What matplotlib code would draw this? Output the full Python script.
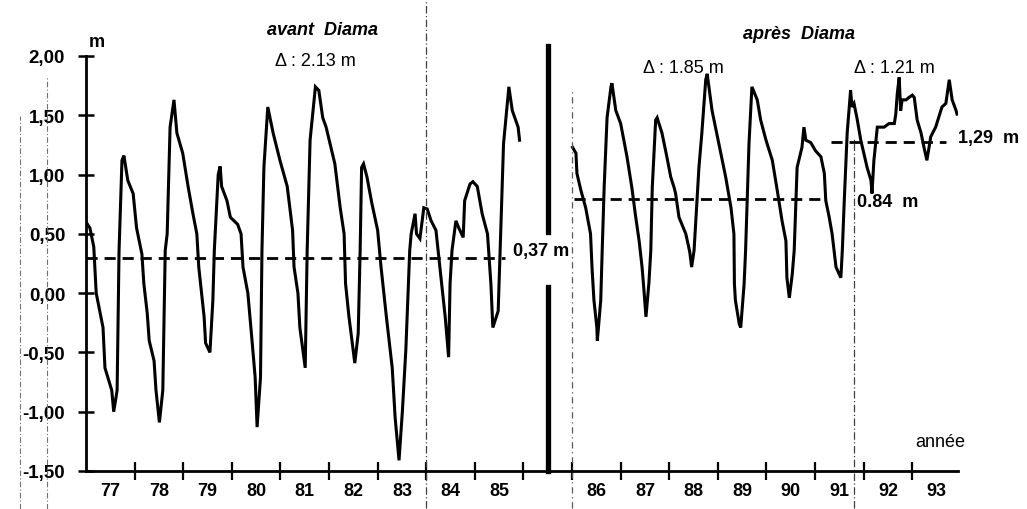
import matplotlib
matplotlib.use('Agg')
import matplotlib.pyplot as plt
from matplotlib.lines import Line2D

plt.rcParams['font.family'] = ['Liberation Sans', 'DejaVu Sans']

# Niveau d'eau (m) avant Diama : temps en années décimales
t_avant = [1977.00, 1977.08, 1977.16, 1977.21, 1977.35, 1977.39, 1977.53, 1977.57, 1977.64, 1977.68,
           1977.74, 1977.78, 1977.86, 1977.97, 1978.04, 1978.15, 1978.19, 1978.26, 1978.30, 1978.40,
           1978.44, 1978.51, 1978.58, 1978.63, 1978.67, 1978.73, 1978.81, 1978.87, 1978.99, 1979.10,
           1979.20, 1979.28, 1979.32, 1979.43, 1979.46, 1979.55, 1979.61, 1979.64, 1979.72, 1979.76,
           1979.79, 1979.90, 1979.97, 1980.12, 1980.19, 1980.23, 1980.33, 1980.42, 1980.48, 1980.52,
           1980.59, 1980.62, 1980.66, 1980.74, 1980.85, 1980.99, 1981.14, 1981.25, 1981.28, 1981.36,
           1981.40, 1981.51, 1981.55, 1981.61, 1981.72, 1981.79, 1981.87, 1981.94, 1982.12, 1982.23,
           1982.31, 1982.34, 1982.41, 1982.53, 1982.60, 1982.64, 1982.67, 1982.71, 1982.78, 1982.88,
           1983.00, 1983.07, 1983.18, 1983.30, 1983.36, 1983.44, 1983.51, 1983.58, 1983.66, 1983.69,
           1983.77, 1983.80, 1983.87, 1983.95, 1984.02, 1984.10, 1984.20, 1984.28, 1984.39, 1984.46,
           1984.49, 1984.53, 1984.61, 1984.67, 1984.76, 1984.79, 1984.90, 1984.96, 1985.05, 1985.15,
           1985.26, 1985.33, 1985.37, 1985.48, 1985.52, 1985.59, 1985.70, 1985.77, 1985.89, 1985.92]
h_avant = [0.60, 0.55, 0.39, 0.00, -0.29, -0.63, -0.82, -1.00, -0.82, 0.36,
           1.12, 1.16, 0.95, 0.84, 0.55, 0.33, 0.08, -0.17, -0.40, -0.57,
           -0.82, -1.09, -0.82, 0.36, 0.50, 1.40, 1.63, 1.35, 1.18, 0.90,
           0.67, 0.50, 0.22, -0.20, -0.42, -0.50, -0.06, 0.36, 1.00, 1.07,
           0.90, 0.78, 0.64, 0.58, 0.50, 0.22, 0.00, -0.42, -0.71, -1.13,
           -0.71, 0.36, 1.06, 1.57, 1.35, 1.12, 0.90, 0.53, 0.22, 0.00,
           -0.29, -0.63, 0.36, 1.29, 1.74, 1.71, 1.48, 1.40, 1.09, 0.72,
           0.50, 0.08, -0.20, -0.59, -0.34, 0.36, 1.06, 1.09, 0.98, 0.76,
           0.53, 0.22, -0.20, -0.63, -1.05, -1.41, -0.99, -0.48, 0.36, 0.50,
           0.67, 0.50, 0.46, 0.72, 0.71, 0.61, 0.53, 0.22, -0.20, -0.54,
           0.08, 0.36, 0.61, 0.55, 0.47, 0.78, 0.92, 0.94, 0.90, 0.67,
           0.50, 0.08, -0.29, -0.15, 0.36, 1.26, 1.74, 1.54, 1.40, 1.29]

# Niveau d'eau (m) après Diama
t_apres = [1986.01, 1986.08, 1986.10, 1986.18, 1986.28, 1986.38, 1986.41, 1986.45, 1986.51, 1986.52,
           1986.59, 1986.62, 1986.66, 1986.72, 1986.80, 1986.82, 1986.90, 1987.00, 1987.13, 1987.23,
           1987.31, 1987.38, 1987.44, 1987.48, 1987.52, 1987.58, 1987.62, 1987.65, 1987.72, 1987.75,
           1987.85, 1987.95, 1988.03, 1988.10, 1988.13, 1988.20, 1988.34, 1988.42, 1988.46, 1988.51,
           1988.61, 1988.67, 1988.75, 1988.78, 1988.88, 1989.02, 1989.16, 1989.27, 1989.33, 1989.34,
           1989.36, 1989.44, 1989.47, 1989.54, 1989.57, 1989.64, 1989.70, 1989.81, 1989.88, 1989.99,
           1990.12, 1990.22, 1990.32, 1990.40, 1990.42, 1990.47, 1990.53, 1990.57, 1990.63, 1990.73,
           1990.77, 1990.81, 1990.91, 1991.01, 1991.12, 1991.19, 1991.22, 1991.29, 1991.35, 1991.39,
           1991.43, 1991.53, 1991.56, 1991.60, 1991.66, 1991.73, 1991.76, 1991.80, 1991.86, 1991.94,
           1992.07, 1992.15, 1992.17, 1992.21, 1992.28, 1992.42, 1992.52, 1992.63, 1992.66, 1992.69,
           1992.73, 1992.76, 1992.79, 1992.87, 1992.93, 1993.00, 1993.04, 1993.10, 1993.18, 1993.24,
           1993.30, 1993.38, 1993.48, 1993.61, 1993.69, 1993.76, 1993.82, 1993.90, 1993.92]
h_apres = [1.23, 1.18, 1.01, 0.87, 0.72, 0.50, 0.22, -0.06, -0.29, -0.40,
           -0.06, 0.36, 0.89, 1.48, 1.74, 1.77, 1.54, 1.43, 1.15, 0.89,
           0.64, 0.44, 0.22, 0.02, -0.20, 0.08, 0.36, 0.89, 1.46, 1.48,
           1.35, 1.15, 0.98, 0.89, 0.84, 0.64, 0.50, 0.35, 0.22, 0.36,
           1.06, 1.35, 1.80, 1.85, 1.54, 1.26, 0.98, 0.72, 0.50, 0.08,
           -0.06, -0.26, -0.29, 0.08, 0.36, 1.26, 1.74, 1.63, 1.46, 1.29,
           1.12, 0.87, 0.61, 0.44, 0.13, -0.04, 0.16, 0.36, 1.06, 1.23,
           1.40, 1.29, 1.27, 1.20, 1.15, 1.01, 0.78, 0.64, 0.50, 0.36,
           0.22, 0.13, 0.36, 0.78, 1.35, 1.71, 1.57, 1.60, 1.48, 1.29,
           1.06, 0.95, 0.84, 1.12, 1.40, 1.40, 1.43, 1.43, 1.51, 1.68,
           1.82, 1.54, 1.63, 1.63, 1.65, 1.67, 1.65, 1.46, 1.35, 1.23,
           1.12, 1.32, 1.40, 1.57, 1.60, 1.80, 1.63, 1.54, 1.51]

# niveaux moyens dessinés (m) et périodes
moy_avant, per_avant = 0.30, (1977.0, 1985.62)
moy_apres1, per_apres1 = 0.79, (1986.04, 1991.18)
moy_apres2, per_apres2 = 1.275, (1991.33, 1993.70)

annees_avant = ['77', '78', '79', '80', '81', '82', '83', '84', '85']
annees_apres = ['86', '87', '88', '89', '90', '91', '92', '93']
y_ticks = [2.0, 1.5, 1.0, 0.5, 0.0, -0.5, -1.0, -1.5]
y_labels = ['2,00', '1,50', '1,00', '0,50', '0,00', '-0,50', '-1,00', '-1,50']

DECAL = 1.0   # décalage de l'axe après la coupure
coupure = 1986.5

fig = plt.figure(figsize=(10.27, 5.10), dpi=100)
ax = fig.add_axes([86/1027, 38/510, 872/1027, 415/510])

ax.plot(t_avant, h_avant, color='k', lw=2.2, solid_joinstyle='miter')
ax.plot([t + DECAL for t in t_apres], h_apres, color='k', lw=2.2, solid_joinstyle='miter')

ax.plot(per_avant, [moy_avant]*2, color='k', lw=2, dashes=(4, 2.5))
ax.plot([p + DECAL for p in per_apres1], [moy_apres1]*2, color='k', lw=2, dashes=(4, 2.5))
ax.plot([p + DECAL for p in per_apres2], [moy_apres2]*2, color='k', lw=2, dashes=(4, 2.5))

# barre de coupure
ax.axvline(coupure, ymin=0.0, ymax=0.443, color='k', lw=3.8, clip_on=False)
ax.axvline(coupure, ymin=0.576, ymax=1.024, color='k', lw=3.8, clip_on=False)

# traits verticaux fins
ax.axvline(1984.0, ymin=-0.09, ymax=1.14, color='0.25', lw=0.9, ls=(0, (6, 2, 1, 2)), clip_on=False)
ax.axvline(1986.0 + DECAL, ymin=-0.09, ymax=0.92, color='0.35', lw=0.9, ls=(0, (5, 3, 1, 3)), clip_on=False)
ax.axvline(1991.8 + DECAL, ymin=-0.09, ymax=0.80, color='0.25', lw=0.9, ls=(0, (6, 2, 1, 2)), clip_on=False)

# traces du scan à gauche
fig.add_artist(Line2D([20/1027, 20/1027], [0, 1 - 117/510], color='0.45', lw=0.8, ls=(0, (5, 2, 1, 2))))
fig.add_artist(Line2D([47/1027, 47/1027], [0, 1 - 77/510], color='0.45', lw=0.8, ls=(0, (5, 2, 1, 2))))

ax.set_xlim(1977.0, 1994.94)
ax.set_ylim(-1.5, 2.0)
for s in ['top', 'right']:
    ax.spines[s].set_visible(False)
for s in ['left', 'bottom']:
    ax.spines[s].set_linewidth(2)

ax.set_yticks(y_ticks)
ax.set_yticklabels(y_labels, fontsize=13.5, fontweight='bold')
ax.tick_params(axis='y', direction='inout', length=12, width=1.8, pad=9)

ax.set_xticks(range(1978, 1995))
ax.set_xticklabels([])
ax.tick_params(axis='x', which='major', direction='inout', length=13, width=1.6)
pos_lab = [1977.5 + i for i in range(len(annees_avant))] + [1986.5 + DECAL + i for i in range(len(annees_apres))]
ax.set_xticks(pos_lab, minor=True)
ax.set_xticklabels(annees_avant + annees_apres, minor=True, fontsize=13, fontweight='bold')
ax.tick_params(axis='x', which='minor', length=0, pad=8)

# textes
ax.text(1977.23, 2.12, 'm', fontsize=13, fontweight='bold', ha='center', va='center')
ax.text(1981.86, 2.22, 'avant  Diama', fontsize=13, fontweight='bold', style='italic', ha='center', va='center')
ax.text(1981.71, 1.96, 'Δ : 2.13 m', fontsize=13, ha='center', va='center')
ax.text(1991.67, 2.19, 'après  Diama', fontsize=13, fontweight='bold', style='italic', ha='center', va='center')
ax.text(1989.28, 1.90, 'Δ : 1.85 m', fontsize=13, ha='center', va='center')
ax.text(1993.63, 1.90, 'Δ : 1.21 m', fontsize=13, ha='center', va='center')
ax.text(1985.79, 0.36, '0,37 m', fontsize=13, fontweight='bold', ha='left', va='center')
ax.text(1992.86, 0.77, '0.84  m', fontsize=13, fontweight='bold', ha='left', va='center')
ax.text(1994.93, 1.31, '1,29  m', fontsize=13, fontweight='bold', ha='left', va='center', clip_on=False)
ax.text(1994.57, -1.25, 'année', fontsize=13, ha='center', va='center')

fig.savefig('out.png', dpi=100)
